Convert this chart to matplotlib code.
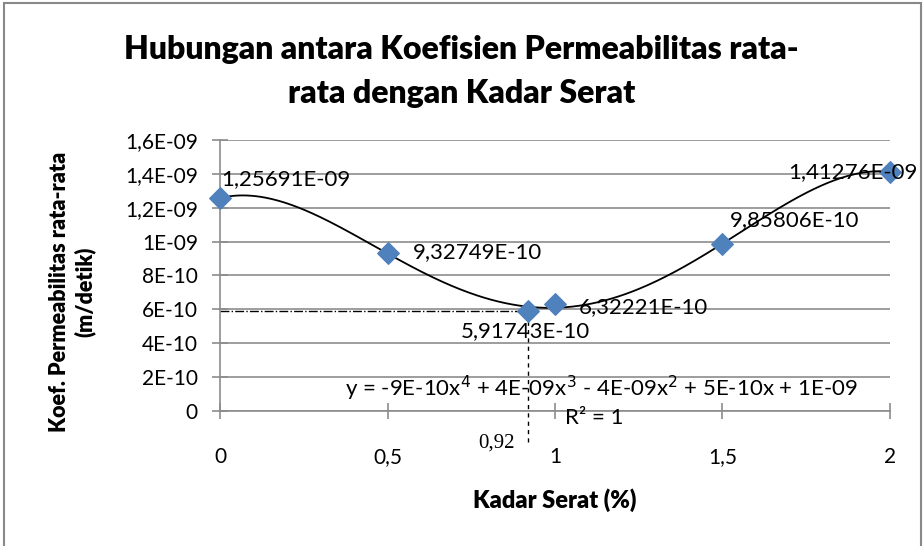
import numpy as np
import matplotlib
matplotlib.use("Agg")
import matplotlib.pyplot as plt
from matplotlib.ticker import FixedLocator, FixedFormatter
from matplotlib.patches import Rectangle

# data
kadar = [0, 0.5, 0.92, 1, 1.5, 2]
koef = [1.25691e-09, 9.32749e-10, 5.91743e-10, 6.32221e-10, 9.85806e-10, 1.41276e-09]
labels = ["1,25691E-09", "9,32749E-10", "5,91743E-10", "6,32221E-10", "9,85806E-10", "1,41276E-09"]
y_ticks = [0, 2e-10, 4e-10, 6e-10, 8e-10, 1e-09, 1.2e-09, 1.4e-09, 1.6e-09]
y_ticklabels = ["0", "2E-10", "4E-10", "6E-10", "8E-10", "1E-09", "1,2E-09", "1,4E-09", "1,6E-09"]
x_ticks = [0, 0.5, 1, 1.5, 2]
x_ticklabels = ["0", "0,5", "1", "1,5", "2"]

plt.rcParams['font.family'] = ['Lato', 'DejaVu Sans']

fig = plt.figure(figsize=(9.23, 5.46), dpi=100)
ax = fig.add_axes([0.2384, 0.2473, 0.9642 - 0.2384, 0.7436 - 0.2473])

# outer border
fig.patches.append(Rectangle((0.004, -0.01), 0.994, 1.0045, transform=fig.transFigure,
                             fill=False, edgecolor='#888888', lw=1.5))

ax.set_xlim(0, 2)
ax.set_ylim(0, 1.6e-9)
ax.yaxis.set_major_locator(FixedLocator(y_ticks))
ax.yaxis.set_major_formatter(FixedFormatter(y_ticklabels))
ax.xaxis.set_major_locator(FixedLocator(x_ticks))
ax.xaxis.set_major_formatter(FixedFormatter(x_ticklabels))
ax.grid(axis='y', color='#8c8c8c', lw=1.2)
ax.set_axisbelow(True)
for s in ['top', 'right']:
    ax.spines[s].set_visible(False)
for s in ['left', 'bottom']:
    ax.spines[s].set_color('#8c8c8c')
    ax.spines[s].set_linewidth(1.2)
ax.tick_params(direction='inout', length=12, width=1.2, color='#8c8c8c', labelsize=15)
ax.tick_params(axis='y', pad=10)
ax.tick_params(axis='x', pad=20)

# trendline (4th order polynomial)
coef = np.polyfit(kadar, koef, 4)
xs = np.linspace(0, 2, 300)
ax.plot(xs, np.polyval(coef, xs), color='black', lw=1.3, zorder=3)

# guide lines at 0.92
ax.plot([0, kadar[2]], [koef[2], koef[2]], color='black', lw=1, ls='-.', zorder=2)
ax.plot([kadar[2], kadar[2]], [-1.85e-10, koef[2]], color='black', lw=1, ls=(0, (3, 3)),
        zorder=2, clip_on=False)

ax.scatter(kadar, koef, marker='D', s=120, color='#4f81bd', zorder=4, clip_on=False)

# data labels (offsets in points)
offs = [(1, 14, 'left'), (18, 1, 'left'), (-2, -15, 'center'), (17, -2, 'left'),
        (5, 17, 'left'), (-73, 0, 'left')]
for x, y, lab, (dx, dy, ha) in zip(kadar, koef, labels, offs):
    ax.annotate(lab, (x, y), xytext=(dx, dy), textcoords='offset points',
                ha=ha, va='center', fontsize=16, zorder=5)

ax.text(0.88, -1.89e-10, "0,92", family='Liberation Serif', fontsize=15,
        ha='right', va='center')

ax.text(1.14, 1.36e-10, "y = -9E-10x$^4$ + 4E-09x$^3$ - 4E-09x$^2$ + 5E-10x + 1E-09",
        ha='center', va='center', fontsize=16)
ax.text(1.116, -0.41e-10, "R² = 1", ha='center', va='center', fontsize=16)

fig.text(0.601, 0.084, "Kadar Serat (%)", ha='center', va='center',
         fontsize=17, fontweight='heavy')
fig.text(0.078, 0.465, "Koef. Permeabilitas rata-rata\n(m/detik)", ha='center', va='center',
         rotation=90, fontsize=15.5, fontweight='heavy', linespacing=1.2)

fig.text(0.5, 0.910, "Hubungan antara Koefisien Permeabilitas rata-", ha='center', va='center',
         fontsize=23, fontweight='heavy')
fig.text(0.5, 0.828, "rata dengan Kadar Serat", ha='center', va='center',
         fontsize=23, fontweight='heavy')

fig.savefig("out.png", dpi=100)
